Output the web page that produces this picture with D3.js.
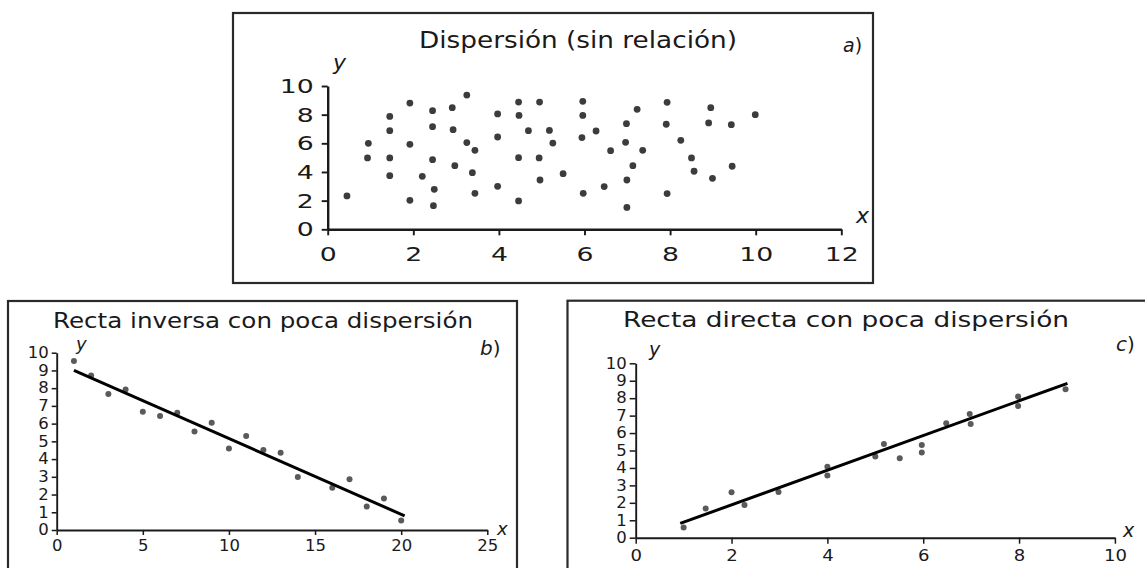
<!DOCTYPE html>
<html>
<head>
<meta charset="utf-8">
<script src="https://cdn.jsdelivr.net/npm/d3@7"></script>
<style>
  html, body { margin: 0; padding: 0; background: #fff; }
  svg text { font-family: "DejaVu Sans", Verdana, sans-serif; fill: #1a1a1a; }
  .axis path, .axis line { stroke: #1a1a1a; }
</style>
</head>
<body>
<svg id="chart" width="1145" height="568"></svg>
<script>
// a) Dispersion (sin relacion)
var scatterAX = [0.45,0.95,0.93,1.45,1.45,1.45,1.45,1.92,1.92,1.92,2.21,2.45,2.45,2.45,2.49,2.47,
                 2.91,2.93,2.97,3.25,3.25,3.44,3.38,3.44,3.97,3.97,3.97,4.46,4.47,4.46,4.46,4.69,
                 4.95,4.94,4.96,5.18,5.26,5.5,5.96,5.96,5.94,5.97,6.27,6.46,6.61,6.98,6.96,6.99,
                 6.99,7.23,7.13,7.36,7.93,7.91,7.93,8.25,8.5,8.56,8.95,8.9,8.99,9.43,9.45,9.99];
var scatterAY = [2.33,6.0,4.98,7.88,6.88,4.98,3.74,8.81,5.93,2.02,3.7,8.28,7.16,4.86,2.79,1.65,
                 8.49,6.95,4.44,9.37,6.05,5.51,3.95,2.51,8.05,6.44,3.0,8.88,7.95,5.0,1.98,6.88,
                 8.88,4.98,3.44,6.9,6.02,3.88,8.93,7.95,6.4,2.51,6.86,2.98,5.49,7.37,6.07,3.44,
                 1.53,8.37,4.44,5.51,8.86,7.33,2.49,6.21,4.98,4.05,8.49,7.42,3.56,7.3,4.4,8.0];
var ticksAX = [0,2,4,6,8,10,12];
var ticksAY = [0,2,4,6,8,10];

// b) Recta inversa
var scatterBX = [1,2,3,4,5,6,7,8,9,10,11,12,13,14,16,17,18,19,20];
var scatterBY = [9.53,8.72,7.67,7.93,6.67,6.43,6.62,5.55,6.05,4.59,5.3,4.51,4.36,2.99,2.39,2.86,1.32,1.77,0.53];
var lineBX = [1,20.2];
var lineBY = [9.0,0.8];
var ticksBX = [0,5,10,15,20,25];
var ticksBY = [0,1,2,3,4,5,6,7,8,9,10];

// c) Recta directa
var scatterCX = [1,1.46,2,2.27,2.98,4,4,5,5.18,5.51,5.97,5.97,6.48,6.97,6.99,7.98,7.98,8.97];
var scatterCY = [0.59,1.68,2.6,1.87,2.62,4.07,3.56,4.65,5.37,4.55,5.32,4.89,6.56,7.09,6.52,8.09,7.55,8.51];
var lineCX = [0.93,9.01];
var lineCY = [0.82,8.85];
var ticksCX = [0,2,4,6,8,10];
var ticksCY = [0,1,2,3,4,5,6,7,8,9,10];

var svg = d3.select("#chart");

// the scanned figure has wide lettering, so labels get a fixed width per digit
function stretch(sel, perChar) {
    sel.attr("textLength", function(d) { return String(d).length * perChar; })
       .attr("lengthAdjust", "spacingAndGlyphs");
}

function panel(p) {
    var g = svg.append("g");

    // frame
    g.append("rect")
        .attr("x", p.box[0]).attr("y", p.box[1])
        .attr("width", p.box[2]).attr("height", p.box[3])
        .attr("fill", "none").attr("stroke", "#2a2a2a").attr("stroke-width", 2.2);

    var x = d3.scaleLinear().domain(p.xDomain).range(p.xRange);
    var y = d3.scaleLinear().domain(p.yDomain).range(p.yRange);

    var xAxis = g.append("g")
        .attr("class", "axis")
        .attr("transform", "translate(0," + p.yRange[0] + ")")
        .call(d3.axisBottom(x).tickValues(p.xTicks).tickSize(p.tick).tickSizeOuter(0).tickPadding(p.pad));
    var yAxis = g.append("g")
        .attr("class", "axis")
        .attr("transform", "translate(" + p.xRange[0] + ",0)")
        .call(d3.axisLeft(y).tickValues(p.yTicks).tickSize(p.tick).tickSizeOuter(0).tickPadding(p.padY));

    [xAxis, yAxis].forEach(function(a) {
        a.select(".domain").attr("stroke-width", p.axisW);
        a.selectAll(".tick line").attr("stroke-width", p.axisW * 0.8);
        a.selectAll("text").attr("font-size", p.tickFont + "px")
            .attr("font-family", "DejaVu Sans").attr("fill", "#1a1a1a");
    });
    stretch(xAxis.selectAll("text"), p.charW[0]);
    stretch(yAxis.selectAll("text"), p.charW[1]);

    // points
    g.append("g").selectAll("circle")
        .data(d3.zip(p.xs, p.ys))
        .enter().append("circle")
        .attr("cx", function(d) { return x(d[0]); })
        .attr("cy", function(d) { return y(d[1]); })
        .attr("r", p.r)
        .attr("fill", p.dot);

    // fitted line
    if (p.lx) {
        g.append("line")
            .attr("x1", x(p.lx[0])).attr("y1", y(p.ly[0]))
            .attr("x2", x(p.lx[1])).attr("y2", y(p.ly[1]))
            .attr("stroke", "#000").attr("stroke-width", 3);
    }

    // title and labels
    g.append("text")
        .attr("x", p.title[1]).attr("y", p.title[2])
        .attr("text-anchor", "middle")
        .attr("font-size", p.title[3] + "px")
        .attr("textLength", p.title[4])
        .attr("lengthAdjust", "spacingAndGlyphs")
        .text(p.title[0]);

    g.append("text")
        .attr("x", p.yLab[0]).attr("y", p.yLab[1])
        .attr("font-style", "italic").attr("font-size", p.labFont + "px")
        .text("y");
    g.append("text")
        .attr("x", p.xLab[0]).attr("y", p.xLab[1])
        .attr("font-style", "italic").attr("font-size", p.labFont + "px")
        .text("x");

    var tag = g.append("text")
        .attr("x", p.tag[1]).attr("y", p.tag[2])
        .attr("font-size", p.tag[3] + "px");
    tag.append("tspan").attr("font-style", "italic").text(p.tag[0]);
    tag.append("tspan").text(")");
}

panel({
    box: [233, 13, 640, 270],
    xDomain: [0, 12], xRange: [327.7, 841.3],
    yDomain: [0, 10], yRange: [229.3, 86],
    xTicks: ticksAX, yTicks: ticksAY,
    tick: 6, pad: 12, padY: 8, axisW: 2.4, tickFont: 20, charW: [17, 17],
    xs: scatterAX, ys: scatterAY, r: 3.4, dot: "#3c3c3c",
    title: ["Dispersión (sin relación)", 578, 48, 23, 318],
    yLab: [333, 70], xLab: [856, 223], labFont: 22,
    tag: ["a", 843, 52, 19]
});

panel({
    box: [8, 301, 509, 290],
    xDomain: [0, 25], xRange: [56.7, 487.3],
    yDomain: [0, 10], yRange: [530, 352.7],
    xTicks: ticksBX, yTicks: ticksBY,
    tick: 5, pad: 5, padY: 3, axisW: 1.9, tickFont: 15, charW: [10.5, 10.5],
    xs: scatterBX, ys: scatterBY, r: 3, dot: "#5a5a5a",
    lx: lineBX, ly: lineBY,
    title: ["Recta inversa con poca dispersión", 263, 328, 21, 420],
    yLab: [76, 350], xLab: [497, 535], labFont: 18,
    tag: ["b", 480, 355, 20]
});

panel({
    box: [567.5, 300.7, 600, 290],
    xDomain: [0, 10], xRange: [635.7, 1114.9],
    yDomain: [0, 10], yRange: [537.7, 363.3],
    xTicks: ticksCX, yTicks: ticksCY,
    tick: 6, pad: 7, padY: 3, axisW: 1.9, tickFont: 15, charW: [11.5, 10.5],
    xs: scatterCX, ys: scatterCY, r: 3, dot: "#5a5a5a",
    lx: lineCX, ly: lineCY,
    title: ["Recta directa con poca dispersión", 846, 327, 21, 446],
    yLab: [649, 356], xLab: [1123, 537], labFont: 19,
    tag: ["c", 1116, 351, 20]
});
</script>
</body>
</html>
